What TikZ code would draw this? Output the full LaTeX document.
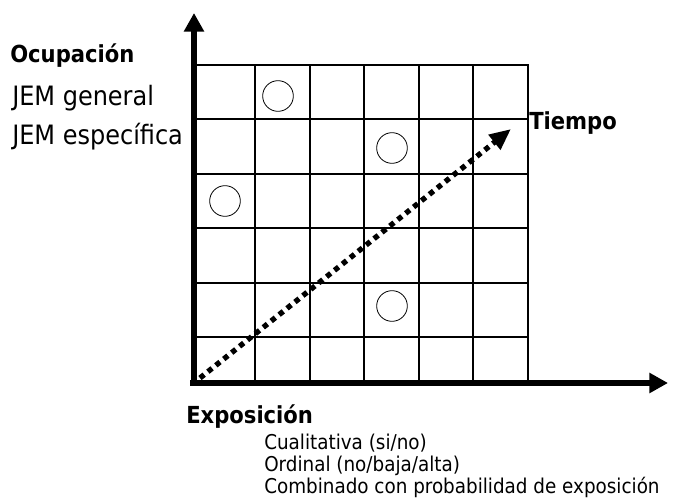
\documentclass[tikz,border=0pt]{standalone}
\usepackage{fontspec}
\setmainfont{DejaVu Sans Condensed}
\usepackage{tikz}
\usetikzlibrary{arrows.meta}

\tikzset{
    axis/.style={line width=3.8pt, -{Triangle[length=14pt,width=14.5pt]}},
    cell/.style={line width=1pt},
    mark circle/.style={shape=circle, draw=black, line width=0.6pt, minimum size=23pt, inner sep=0pt},
    title/.style={anchor=base west, inner sep=0pt, font=\fontsize{17.6pt}{20pt}\selectfont\bfseries},
    item/.style={anchor=base west, inner sep=0pt, font=\fontsize{20pt}{22pt}\selectfont},
    subitem/.style={anchor=base west, inner sep=0pt, font=\fontsize{15.3pt}{18pt}\selectfont}
}

\begin{document}
\begin{tikzpicture}[x=0.75pt, y=-0.75pt]
    \useasboundingbox (0,0) rectangle (677,499);
    \coordinate (O) at (194,383);
    \coordinate (Ytop) at (194,13);
    \coordinate (Xend) at (668,383);
    \coordinate (T0) at (200,378);
    \coordinate (T1) at (511,129);

    \draw[cell] (194,65) -- (528,65) -- (528,381);
    \draw[cell] (194,119) -- (528,119);
    \draw[cell] (194,174) -- (528,174);
    \draw[cell] (194,228) -- (528,228);
    \draw[cell] (194,283) -- (528,283);
    \draw[cell] (194,337) -- (528,337);
    \draw[cell] (255,65) -- (255,381);
    \draw[cell] (310,65) -- (310,381);
    \draw[cell] (364,65) -- (364,381);
    \draw[cell] (419,65) -- (419,381);
    \draw[cell] (473,65) -- (473,381);

    \node[mark circle] at (278,96) (C1) {};
    \node[mark circle] at (392,148) (C2) {};
    \node[mark circle] at (225,201) (C3) {};
    \node[mark circle] at (392,306) (C4) {};

    \draw[line width=4pt, dash pattern=on 4pt off 3.6pt, -{Triangle[length=16pt,width=13.5pt]}] (T0) -- (T1);
    \draw[axis] (O) -- (Ytop);
    \draw[axis] ([xshift=-2.8pt]O) -- (Xend);

    \node[title] at (10,63) (ocup) {Ocupación};
    \node[item] at (12,106) (jemg) {JEM general};
    \node[item] at (12,144) (jeme) {JEM específica};
    \node[title] at (529,129) (tiempo) {Tiempo};
    \node[title] at (186,423) (expo) {Exposición};
    \node[subitem] at (264,449) (cual) {Cualitativa (si/no)};
    \node[subitem] at (264,471) (ord) {Ordinal (no/baja/alta)};
    \node[subitem] at (264,493) (comb) {Combinado con probabilidad de exposición};
\end{tikzpicture}
\end{document}
